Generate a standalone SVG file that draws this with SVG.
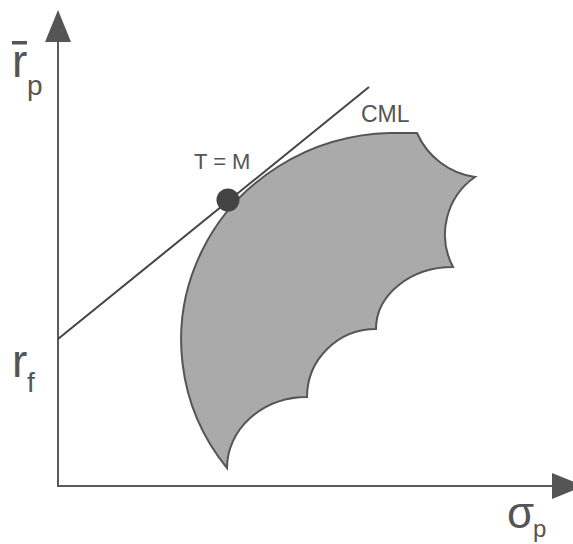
<svg xmlns="http://www.w3.org/2000/svg" width="573" height="544" viewBox="0 0 573 544">
<style>
.axis{stroke:#5a5a5a;stroke-width:2;fill:none}
.head{fill:#555}
.lbl{font-family:"Liberation Sans",Arial,sans-serif;fill:#555}
</style>
<rect width="573" height="544" fill="#fff"/>
<g id="frontier">
<path d="M227,468 A214,207 0 0 1 390,133 L417,133 A75,75 0 0 0 475,177 A70,70 0 0 0 453,267 A77,62 0 0 0 376,329 A69,68 0 0 0 307,397 A80,71 0 0 0 227,468 Z" fill="#aaaaaa" stroke="#555" stroke-width="2" stroke-linejoin="miter"/>
</g>
<g id="axes">
<line class="axis" x1="58" y1="486" x2="58" y2="40"/>
<polygon class="head" points="45,42 71,42 58,10"/>
<line class="axis" x1="57" y1="486" x2="554" y2="486"/>
<polygon class="head" points="552,473 552,499 584,486"/>
</g>
<g id="connectors">
<line id="cml" x1="58" y1="339" x2="369" y2="87" stroke="#444" stroke-width="2"/>
</g>
<g id="tangency">
<circle cx="228" cy="200" r="11.5" fill="#444"/>
<text class="lbl" x="194" y="169" font-size="22">T = M</text>
</g>
<g id="cml-label">
<text class="lbl" x="361" y="122" font-size="23">CML</text>
</g>
<g id="y-label">
<text class="lbl" x="12" y="77" font-size="46">r</text>
<rect x="12" y="41" width="15" height="3.5" fill="#555"/>
<text class="lbl" x="27" y="95" font-size="28">p</text>
</g>
<g id="rf-label">
<text class="lbl" x="12" y="377" font-size="46">r</text>
<text class="lbl" x="27" y="392" font-size="28">f</text>
</g>
<g id="x-label">
<text class="lbl" x="507" y="528" font-size="44">σ</text>
<text class="lbl" x="533" y="537" font-size="24">p</text>
</g>
</svg>
